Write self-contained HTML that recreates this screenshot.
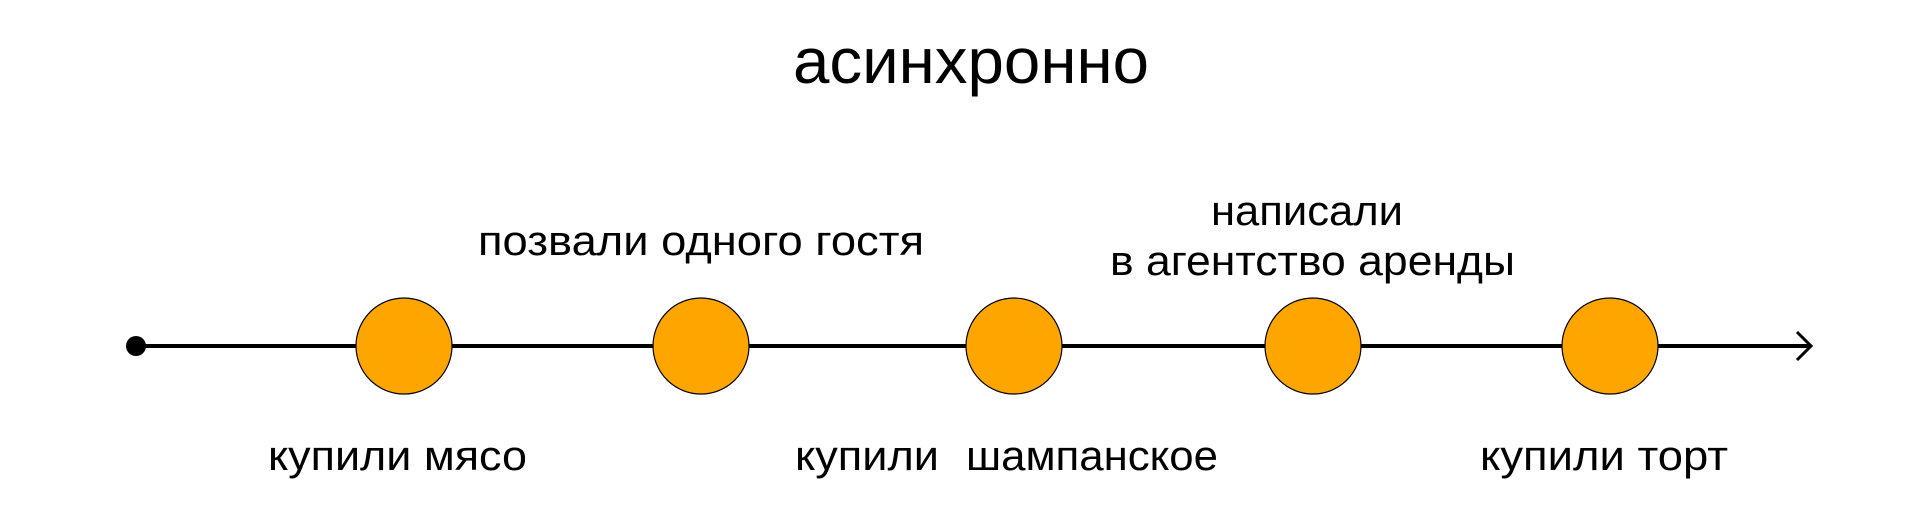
<!DOCTYPE html>
<html><head><meta charset="utf-8"><style>
html,body{margin:0;padding:0;background:#fff;}
svg{display:block;}
text{font-family:"Liberation Sans","DejaVu Sans",sans-serif;fill:#000;}
</style></head><body>
<svg width="1912" height="529" viewBox="0 0 1912 529" xmlns="http://www.w3.org/2000/svg">
<text x="793" y="83" font-size="64" textLength="356" lengthAdjust="spacingAndGlyphs">асинхронно</text>
<line x1="135" y1="346" x2="1810" y2="346" stroke="#000" stroke-width="4"/>
<circle cx="136" cy="346" r="10" fill="#000"/>
<polyline points="1797,332 1811,346 1797,360" fill="none" stroke="#000" stroke-width="3"/>
<g fill="#FFA500" stroke="#000" stroke-width="1.2">
<circle cx="404" cy="346" r="48"/>
<circle cx="701" cy="346" r="48"/>
<circle cx="1014" cy="346" r="48"/>
<circle cx="1313" cy="346" r="48"/>
<circle cx="1610" cy="346" r="48"/>
</g>
<g font-size="42">
<text x="478" y="255" textLength="446" lengthAdjust="spacingAndGlyphs">позвали одного гостя</text>
<text x="1211" y="225" textLength="192" lengthAdjust="spacingAndGlyphs">написали</text>
<text x="1110" y="275" textLength="405" lengthAdjust="spacingAndGlyphs">в агентство аренды</text>
<text x="268" y="470" textLength="259" lengthAdjust="spacingAndGlyphs">купили мясо</text>
<text x="795" y="470" textLength="144" lengthAdjust="spacingAndGlyphs">купили</text>
<text x="966" y="470" textLength="252" lengthAdjust="spacingAndGlyphs">шампанское</text>
<text x="1480" y="470" textLength="248" lengthAdjust="spacingAndGlyphs">купили торт</text>
</g>
</svg>
</body></html>
